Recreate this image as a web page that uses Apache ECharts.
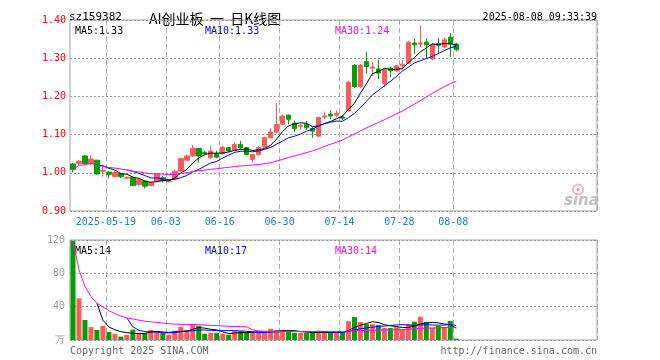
<!DOCTYPE html>
<html><head><meta charset="utf-8">
<script src="https://cdn.jsdelivr.net/npm/echarts@6/dist/echarts.min.js"></script>
<style>html,body{margin:0;padding:0;background:#fff}#c{width:660px;height:360px}</style>
</head><body><div id="c"></div>
<script>
const dates = ['05-09','05-12','05-13','05-14','05-15','05-16','05-19','05-20','05-21','05-22','05-23',
'05-26','05-27','05-28','05-29','05-30','06-03','06-04','06-05','06-06','06-09','06-10','06-11','06-12','06-13',
'06-16','06-17','06-18','06-19','06-20','06-23','06-24','06-25','06-26','06-27','06-30','07-01','07-02','07-03','07-04',
'07-07','07-08','07-09','07-10','07-11','07-14','07-15','07-16','07-17','07-18','07-21','07-22','07-23','07-24','07-25',
'07-28','07-29','07-30','07-31','08-01','08-04','08-05','08-06','08-07','08-08'];
const opens  = [1.023,1.024,1.044,1.024,1.033,1.004,1.002,0.990,0.998,0.986,0.988,0.969,0.978,0.967,0.978,0.987,0.977,0.985,1.004,1.033,1.044,1.064,1.053,1.039,1.050,1.050,1.066,1.058,1.074,1.066,1.035,1.048,1.068,1.092,1.106,1.127,1.151,1.130,1.122,1.127,1.116,1.096,1.146,1.153,1.151,1.146,1.162,1.281,1.226,1.291,1.274,1.272,1.234,1.274,1.267,1.280,1.287,1.340,1.337,1.342,1.298,1.338,1.329,1.355,1.337];
const closes = [1.009,1.030,1.024,1.036,0.997,1.006,0.996,1.001,0.990,0.988,0.967,0.982,0.965,0.974,0.997,0.980,0.979,1.004,1.037,1.044,1.064,1.044,1.050,1.057,1.041,1.067,1.057,1.074,1.065,1.048,1.048,1.066,1.092,1.107,1.127,1.149,1.140,1.116,1.124,1.118,1.109,1.145,1.149,1.149,1.155,1.143,1.237,1.226,1.281,1.278,1.277,1.261,1.270,1.267,1.280,1.284,1.342,1.335,1.340,1.335,1.335,1.334,1.348,1.337,1.322];
const lows   = [1.001,1.020,1.022,1.020,0.995,0.990,0.985,0.988,0.986,0.983,0.965,0.966,0.959,0.964,0.975,0.975,0.975,0.982,1.003,1.031,1.042,1.026,1.046,1.037,1.038,1.048,1.055,1.056,1.063,1.046,1.027,1.045,1.066,1.090,1.104,1.125,1.127,1.107,1.114,1.112,1.092,1.094,1.140,1.140,1.145,1.138,1.160,1.222,1.222,1.259,1.254,1.245,1.224,1.251,1.264,1.270,1.285,1.311,1.329,1.298,1.295,1.311,1.326,1.303,1.318];
const highs  = [1.026,1.033,1.047,1.046,1.034,1.015,1.005,1.003,0.999,0.991,0.990,0.985,0.980,0.976,0.999,0.992,0.982,1.008,1.040,1.048,1.073,1.065,1.058,1.071,1.058,1.070,1.068,1.079,1.084,1.068,1.050,1.070,1.095,1.117,1.183,1.153,1.153,1.137,1.129,1.136,1.120,1.147,1.160,1.163,1.163,1.151,1.241,1.285,1.285,1.316,1.290,1.296,1.272,1.278,1.282,1.295,1.346,1.351,1.386,1.351,1.340,1.353,1.354,1.366,1.340];
const volumes = [119,50,24,15.5,12,17,9.5,7.5,4,6.3,12.5,8.6,8,12,10.8,8.5,6.3,11,15.5,12,19,17,7.5,8.6,8.6,7.5,6.3,11,10.5,9,10.5,9,9,13.5,11.5,12,10,8.6,8.6,8.6,8.6,11,8.6,8.6,8.6,8.6,22.5,27.5,21.5,19,19,18,14.5,14.5,15.5,12,19,22,28,21.5,14.5,16.8,15.5,23,1.7];
const tickIdx  = [6,16,25,35,45,55,64];
const tickText = ['2025-05-19','06-03','06-16','06-30','07-14','07-28','08-08'];
const slotCount = 88;
const priceLegend = ['MA5:1.33','MA10:1.33','MA30:1.24'];
const volLegend = ['MA5:14','MA10:17','MA30:14'];
const headerCode = 'sz159382';
const headerTitle = 'AI创业板  一  日K线图';
const headerTime = '2025-08-08 09:33:39';

const UP = '#ff5a5a', DOWN = '#00a000';
const MONO = '"DejaVu Sans Mono", "Liberation Mono", monospace';
const GRIDC = '#999999';

function ma(arr, n, expanding) {
  return arr.map((v, i) => {
    if (i < n - 1 && !expanding) return '-';
    const s0 = Math.max(0, i - n + 1);
    let s = 0; for (let j = s0; j <= i; j++) s += arr[j];
    return +(s / (i - s0 + 1)).toFixed(4);
  });
}
const cats = dates.concat(new Array(slotCount - dates.length).fill('').map((_, k) => ' ' + k));
const kData = dates.map((d, i) => [opens[i], closes[i], lows[i], highs[i]]);
const vData = volumes.map((v, i) => ({ value: v, itemStyle: { color: closes[i] >= opens[i] ? UP : DOWN } }));
const isTick = (idx) => tickIdx.indexOf(idx) >= 0;

const chart = echarts.init(document.getElementById('c'), null, { renderer: 'canvas' });
const lineS = (name, data, color, xi, yi) => ({
  type: 'line', name, data, xAxisIndex: xi, yAxisIndex: yi, symbol: 'none', z: 5,
  lineStyle: { color, width: 1 }, itemStyle: { color }, animation: false, silent: true
});
const splitX = { show: true, interval: (i) => isTick(i), lineStyle: { color: '#aaaaaa', type: [5, 3], width: 1 } };
const splitY = { show: true, lineStyle: { color: GRIDC, type: [2, 2], width: 1 } };
const txt = (x, y, text, color, extra) => ({ type: 'text', left: x, top: y, silent: true,
  style: Object.assign({ text, fill: color, font: '10px ' + MONO, verticalAlign: 'middle' }, extra || {}) });

chart.setOption({
  animation: false,
  backgroundColor: '#fff',
  grid: [
    { left: 70, top: 20, width: 527, height: 191, show: true, borderColor: '#a0a0a0', borderWidth: 1, backgroundColor: 'transparent' },
    { left: 70, top: 240, width: 527, height: 100, show: true, borderColor: '#a0a0a0', borderWidth: 1, backgroundColor: 'transparent' }
  ],
  xAxis: [
    { type: 'category', gridIndex: 0, data: cats, boundaryGap: true,
      axisLine: { show: false }, axisTick: { show: false },
      axisLabel: { interval: (i) => isTick(i), formatter: (v, i) => { const k = tickIdx.indexOf(i); return k >= 0 ? tickText[k] : ''; },
        color: '#1f7ad0', fontFamily: MONO, fontSize: 10, margin: 6, padding: [0, 6, 0, 0] },
      splitLine: splitX },
    { type: 'category', gridIndex: 1, data: cats, boundaryGap: true,
      axisLine: { show: false }, axisTick: { show: false }, axisLabel: { show: false },
      splitLine: splitX }
  ],
  yAxis: [
    { type: 'value', gridIndex: 0, min: 0.9, max: 1.4, interval: 0.1, position: 'left',
      axisLine: { show: false }, axisTick: { show: false },
      axisLabel: { formatter: (v) => v.toFixed(2), color: '#ff0000', fontFamily: MONO, fontSize: 10, margin: 4 },
      splitLine: splitY },
    { type: 'value', gridIndex: 1, min: 0, max: 120, interval: 40, position: 'left',
      axisLine: { show: false }, axisTick: { show: false },
      axisLabel: { formatter: (v) => v === 0 ? '万' : String(v), color: '#999999', fontFamily: MONO, fontSize: 10, margin: 5 },
      splitLine: splitY }
  ],
  series: [
    { type: 'candlestick', xAxisIndex: 0, yAxisIndex: 0, data: kData, barWidth: 5, z: 3,
      itemStyle: { color: UP, color0: DOWN, borderColor: UP, borderColor0: DOWN, borderWidth: 1 } },
    lineS('MA5', ma(closes, 5, false), '#000000', 0, 0),
    lineS('MA10', ma(closes, 10, false), '#0000ff', 0, 0),
    lineS('MA30', ma(closes, 30, true), '#ff00ff', 0, 0),
    { type: 'bar', xAxisIndex: 1, yAxisIndex: 1, data: vData, barWidth: 5, z: 3 },
    lineS('VMA5', ma(volumes, 5, false), '#000000', 1, 1),
    lineS('VMA10', ma(volumes, 10, false), '#0000ff', 1, 1),
    lineS('VMA30', ma(volumes, 30, true), '#ff00ff', 1, 1)
  ],
  graphic: [
    txt(69, 12, headerCode, '#000', { font: '11px ' + MONO }),
    { type: 'text', left: 149, top: 12, silent: true, style: { text: headerTitle, fill: '#000', font: '14px "Noto Sans CJK SC", sans-serif', verticalAlign: 'middle' } },
    { type: 'text', right: 63, top: 12, silent: true, style: { text: headerTime, fill: '#000', font: '10px ' + MONO, verticalAlign: 'middle', align: 'right' } },
    txt(75, 26, priceLegend[0], '#000000'),
    txt(205, 26, priceLegend[1], '#0000ff'),
    txt(335, 26, priceLegend[2], '#ff00ff'),
    txt(75, 246.5, volLegend[0], '#000000'),
    txt(205, 246.5, volLegend[1], '#0000ff'),
    txt(335, 246.5, volLegend[2], '#ff00ff'),
    txt(70, 346, 'Copyright 2025 SINA.COM', '#666666'),
    { type: 'text', right: 63, top: 346, silent: true, style: { text: 'http://finance.sina.com.cn', fill: '#666666', font: '10px ' + MONO, verticalAlign: 'middle', align: 'right' } },
    { type: 'group', left: 564, top: 182, silent: true, children: [
      { type: 'circle', shape: { cx: 14, cy: 6, r: 5 }, style: { fill: 'none', stroke: '#f4b8b8', lineWidth: 2 } },
      { type: 'circle', shape: { cx: 14, cy: 6, r: 1.5 }, style: { fill: '#c8a0a0' } },
      { type: 'text', x: 0, y: 10, style: { text: 'sina', fill: '#c0c0c0', font: 'italic bold 15px "DejaVu Sans", sans-serif' } }
    ] }
  ]
});
</script></body></html>
